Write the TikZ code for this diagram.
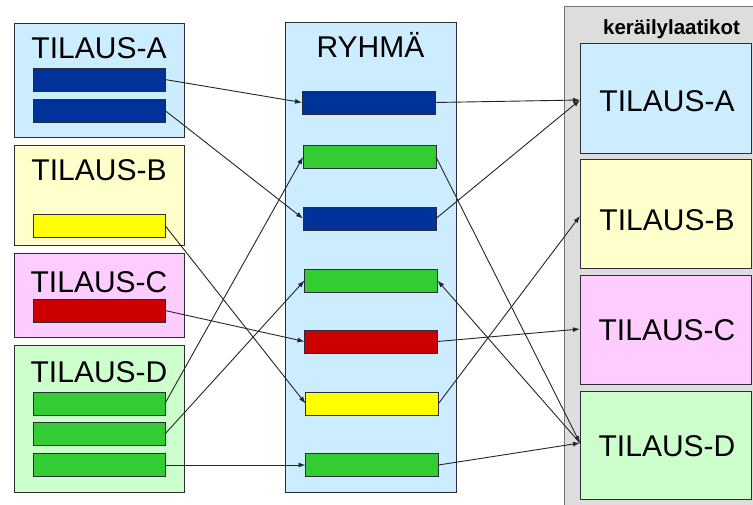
\documentclass[tikz,border=0pt]{standalone}
\usepackage{fontspec}
\setmainfont{Liberation Sans}
\usetikzlibrary{arrows.meta,calc}

\definecolor{lblue}{RGB}{204,236,255}
\definecolor{lyellow}{RGB}{255,255,204}
\definecolor{lpink}{RGB}{255,204,255}
\definecolor{lgreen}{RGB}{204,255,204}
\definecolor{navybar}{RGB}{0,51,153}
\definecolor{greenbar}{RGB}{51,204,51}
\definecolor{redbar}{RGB}{204,0,0}
\definecolor{yellowbar}{RGB}{255,255,0}
\definecolor{panelgray}{RGB}{221,221,221}
\definecolor{edge}{RGB}{45,45,55}

\tikzset{
  orderbox/.style={draw=edge, line width=0.9pt, inner sep=0pt, outer sep=0pt},
  bar/.style={draw=edge, line width=0.8pt, inner sep=0pt, outer sep=0pt,
    minimum width=133pt, minimum height=23pt},
  title/.style={anchor=base, inner sep=0pt, font=\fontsize{30}{36}\selectfont},
  link/.style={draw=black!85, line width=0.9pt,
    -{Latex[length=7pt,width=5pt]}},
}

\begin{document}
\begin{tikzpicture}[x=1pt,y=-1pt]
\useasboundingbox (0,0) rectangle (753,504);
\fill[white] (0,0) rectangle (753,504);
\begin{scope}
\clip (0,0) rectangle (753,504);

% collection panel on the right
\node[draw=black!55, line width=1pt, fill=panelgray, inner sep=0pt,
  minimum width=200pt, minimum height=510pt] (panel) at (664,261) {};
\node[anchor=base, inner sep=0pt, font=\fontsize{20.5}{24}\selectfont\bfseries]
  (paneltitle) at (671.5,34) {keräilylaatikot};

% order boxes (left)
\node[orderbox, fill=lblue,   minimum width=170pt, minimum height=114pt] (la) at (99,80) {};
\node[orderbox, fill=lyellow, minimum width=170pt, minimum height=100pt] (lb) at (99,195) {};
\node[orderbox, fill=lpink,   minimum width=170pt, minimum height=84pt]  (lc) at (99,295) {};
\node[orderbox, fill=lgreen,  minimum width=170pt, minimum height=147pt] (ld) at (99,418.5) {};
\node[title] (tla) at (99,58)  {TILAUS-A};
\node[title] (tlb) at (99,180) {TILAUS-B};
\node[title] (tlc) at (99,292) {TILAUS-C};
\node[title] (tld) at (99,382) {TILAUS-D};

% group box (middle)
\node[orderbox, fill=lblue, minimum width=171pt, minimum height=470pt] (grp) at (370.5,257) {};
\node[title] (tgrp) at (370.5,57) {RYHMÄ};

% collection boxes (right)
\node[orderbox, fill=lblue,   minimum width=171pt, minimum height=110pt] (ra) at (665.5,98) {};
\node[orderbox, fill=lyellow, minimum width=171pt, minimum height=109pt] (rb) at (665.5,213.5) {};
\node[orderbox, fill=lpink,   minimum width=171pt, minimum height=109pt] (rc) at (665.5,329.5) {};
\node[orderbox, fill=lgreen,  minimum width=171pt, minimum height=108pt] (rd) at (665.5,445) {};
\node[title] (tra) at (667,111) {TILAUS-A};
\node[title] (trb) at (667,230) {TILAUS-B};
\node[title] (trc) at (667,340) {TILAUS-C};
\node[title] (trd) at (667,456) {TILAUS-D};

% order lines
\node[bar, fill=navybar,   minimum width=132pt] (la1) at (99,79.5) {};
\node[bar, fill=navybar,   minimum width=132pt] (la2) at (99,110.5) {};
\node[bar, fill=yellowbar, minimum width=132pt] (lb1) at (99,225.5) {};
\node[bar, fill=redbar,    minimum width=132pt] (lc1) at (99,310.5) {};
\node[bar, fill=greenbar,  minimum width=132pt] (ld1) at (99,403.5) {};
\node[bar, fill=greenbar,  minimum width=132pt] (ld2) at (99,434) {};
\node[bar, fill=greenbar,  minimum width=132pt] (ld3) at (99,465) {};

% grouped lines
\node[bar, fill=navybar]   (m1) at (368.5,102.5) {};
\node[bar, fill=greenbar]  (m2) at (369.5,157) {};
\node[bar, fill=navybar]   (m3) at (369.5,218.5) {};
\node[bar, fill=greenbar]  (m4) at (371,280.5) {};
\node[bar, fill=redbar]    (m5) at (371,341.5) {};
\node[bar, fill=yellowbar] (m6) at (372,403.5) {};
\node[bar, fill=greenbar]  (m7) at (372,465) {};

% orders into the group
\draw[link] (la1.east) -- (m1.west);
\draw[link] (la2.east) -- (m3.west);
\draw[link] (lb1.east) -- (m6.west);
\draw[link] (lc1.east) -- (m5.west);
\draw[link] (ld1.east) -- (m2.west);
\draw[link] (ld2.east) -- (m4.west);
\draw[link] (ld3.east) -- (m7.west);

% group into the collection boxes
\coordinate (ina) at ($(ra.west)+(0,2)$);
\coordinate (inb) at ($(rb.west)+(0,2.5)$);
\coordinate (inc) at ($(rc.west)+(0,-0.5)$);
\coordinate (ind) at ($(rd.west)+(0,-2)$);
\draw[link] (m1.east) -- (ina);
\draw[link] (m3.east) -- (ina);
\draw[link] (m2.east) -- (ind);
\draw[link] (ind) -- (m4.east);
\draw[link] (m5.east) -- (inc);
\draw[link] (m6.east) -- (inb);
\draw[link] (m7.east) -- (ind);
\end{scope}
\end{tikzpicture}
\end{document}
